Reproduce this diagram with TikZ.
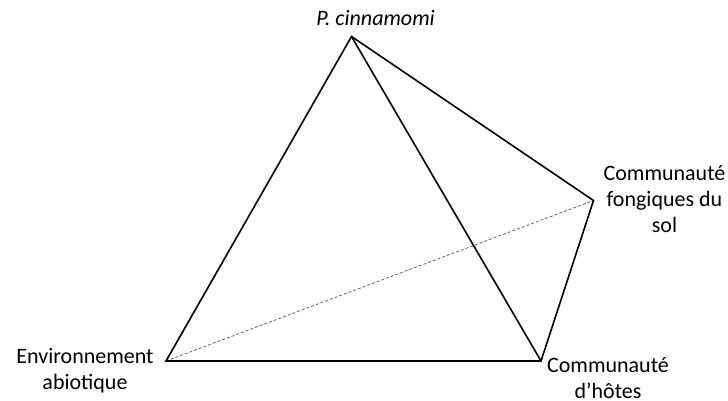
\documentclass[tikz,border=0pt]{standalone}
\usepackage{fontspec}
\setmainfont{Carlito}
\begin{document}
\begin{tikzpicture}[x=1pt,y=-1pt,
  edge/.style={line width=1.6pt,line join=miter},
  hidden/.style={line width=0.8pt,gray!80!black,dash pattern=on 3pt off 2pt},
  lab/.style={inner sep=0pt,anchor=base,font=\fontsize{22}{26}\selectfont}]
\useasboundingbox (0,0) rectangle (728,400);
\coordinate (P) at (351.5,36.5);
\coordinate (F) at (593.5,200.5);
\coordinate (H) at (541,361);
\coordinate (E) at (166,361);
\draw[hidden] (E) -- (F);
\draw[edge] (E) -- (P) -- (F) -- (H) -- cycle;
\draw[edge] (P) -- (H);
\node[lab] (lp) at (375.5,25) {\itshape P. cinnamomi};
\node[lab] (lf) at (664.5,180) {\setlength\tabcolsep{0pt}\begin{tabular}[t]{c}Communauté\\fongiques du\\sol\end{tabular}};
\node[lab] (le) at (85,363) {\setlength\tabcolsep{0pt}\begin{tabular}[t]{c}Environnement\\abiotique\end{tabular}};
\node[lab] (lh) at (608,372) {\setlength\tabcolsep{0pt}\begin{tabular}[t]{c}Communauté\\d’hôtes\end{tabular}};
\end{tikzpicture}
\end{document}
